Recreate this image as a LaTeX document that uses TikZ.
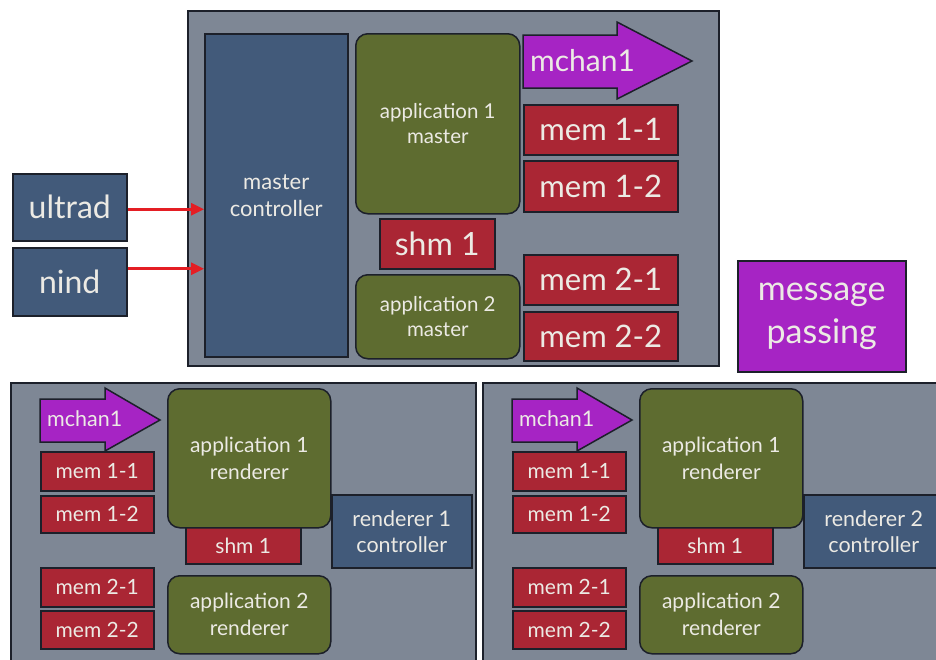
\documentclass[tikz,border=0pt]{standalone}
\usepackage{fontspec}
\setmainfont{Lato}
\usetikzlibrary{arrows.meta}

\definecolor{panelgray}{RGB}{126,135,149}
\definecolor{ctrlblue}{RGB}{66,90,122}
\definecolor{appgreen}{RGB}{94,108,48}
\definecolor{memred}{RGB}{170,38,52}
\definecolor{msgpurple}{RGB}{166,36,196}
\definecolor{edge}{RGB}{28,32,42}
\definecolor{label}{RGB}{236,234,228}
\definecolor{linkred}{RGB}{228,30,36}

\newcommand{\fsz}[2]{\fontsize{#1}{#2}\selectfont}

\tikzset{
  base/.style={anchor=north west, inner sep=0pt, align=center, text=label,
               draw=edge, line width=1.5pt},
  frame/.style={base, fill=panelgray},
  ctrl/.style={base, fill=ctrlblue},
  app/.style={base, fill=appgreen, rounded corners=12pt},
  mem/.style={base, fill=memred},
  msg/.style={base, fill=msgpurple},
  chan/.style={fill=msgpurple, draw=edge, line width=1.5pt},
  link/.style={draw=linkred, line width=2.8pt,
               -{Triangle[length=13pt,width=12pt]}},
}

% one renderer panel: #1 name prefix, #2 horizontal offset, #3 renderer number
\newcommand{\rendererpanel}[3]{
  \begin{scope}[xshift=#2pt]
    \node[frame, minimum width=465, minimum height=290] (#1frame) at (10,382) {};
    \path[chan] (40,399) -- (105,399) -- (105,388) -- (160,420) -- (105,451)
                -- (105,442) -- (40,442) -- cycle;
    \node[anchor=west, inner sep=0pt, text=label, font=\fsz{21.5}{24}] (#1chan) at (47,419) {mchan1};
    \node[mem, minimum width=113, minimum height=39, font=\fsz{21}{25}] (#1m11) at (40,451) {mem 1-1};
    \node[mem, minimum width=113, minimum height=37, font=\fsz{21}{25}] (#1m12) at (40,495) {mem 1-2};
    \node[mem, minimum width=113, minimum height=39, font=\fsz{21}{25}] (#1m21) at (40,567) {mem 2-1};
    \node[mem, minimum width=113, minimum height=38, font=\fsz{21}{25}] (#1m22) at (40,610) {mem 2-2};
    \node[mem, minimum width=115, minimum height=38, font=\fsz{21}{25}, text depth=0pt] (#1shm) at (185,525) {\raisebox{-3pt}{shm 1}};
    \node[app, minimum width=163, minimum height=139, font=\fsz{21}{27}] (#1app1) at (167,388) {application 1\\renderer};
    \node[app, minimum width=163, minimum height=78, font=\fsz{21}{27}] (#1app2) at (167,575) {application 2\\renderer};
    \node[ctrl, minimum width=140, minimum height=73, font=\fsz{21.5}{26}] (#1ctrl) at (331,494) {renderer #3\\controller};
  \end{scope}
}

\begin{document}
\begin{tikzpicture}[x=1pt, y=-1pt]
  \useasboundingbox[fill=white] (0,0) rectangle (936,659);

  % master machine
  \node[frame, minimum width=531, minimum height=355] (master) at (187,10) {};
  \node[ctrl, minimum width=143, minimum height=323, font=\fsz{22}{27}] (mc) at (204,33) {master\\controller};
  \node[ctrl, minimum width=114, minimum height=67, font=\fsz{32}{36}] (ultrad) at (12,173) {ultrad};
  \node[ctrl, minimum width=114, minimum height=68, font=\fsz{32}{36}] (nind) at (12,247) {nind};
  \node[app, minimum width=164, minimum height=180, font=\fsz{20.5}{25}] (app1m) at (355,33) {application 1\\master};
  \node[mem, minimum width=115, minimum height=50, font=\fsz{32}{32}] (shm) at (379,218) {shm 1};
  \node[app, minimum width=164, minimum height=84, font=\fsz{20.5}{25}] (app2m) at (355,274) {application 2\\master};

  \path[chan] (523,35) -- (617,35) -- (617,22) -- (692,61) -- (617,99)
              -- (617,88) -- (523,88) -- cycle;
  \node[anchor=west, inner sep=0pt, text=label, font=\fsz{30}{32}] (chan) at (530,61) {mchan1};
  \node[mem, minimum width=154, minimum height=50, font=\fsz{31}{32}] (m11) at (523,104) {mem 1-1};
  \node[mem, minimum width=154, minimum height=51, font=\fsz{31}{32}] (m12) at (523,160) {mem 1-2};
  \node[mem, minimum width=154, minimum height=50, font=\fsz{31}{32}] (m21) at (523,254) {mem 2-1};
  \node[mem, minimum width=154, minimum height=49, font=\fsz{31}{32}] (m22) at (523,311) {mem 2-2};

  \node[msg, minimum width=168, minimum height=111, font=\fsz{34}{43}] (legend) at (737,260) {message\\passing};

  \draw[link] ([yshift=-2pt]ultrad.east) -- ([yshift=-2pt]ultrad.east -| mc.west);
  \draw[link] ([yshift=13pt]nind.east) -- ([yshift=13pt]nind.east -| mc.west);

  % renderer machines
  \rendererpanel{ra}{0}{1}
  \rendererpanel{rb}{472}{2}
\end{tikzpicture}
\end{document}
